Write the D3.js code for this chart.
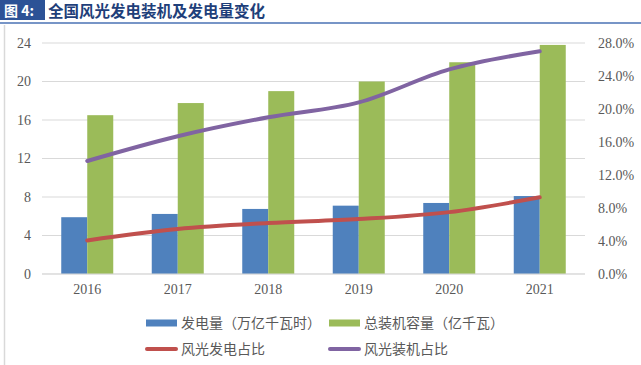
<!DOCTYPE html>
<html>
<head>
<meta charset="utf-8">
<script src="https://cdn.jsdelivr.net/npm/d3@7"></script>
<style>
  body { margin: 0; background: #fff; }
  svg { display: block; }
</style>
</head>
<body>
<svg id="chart" width="641" height="365"></svg>
<script>
// data
const years = ["2016", "2017", "2018", "2019", "2020", "2021"];
const genAmount = [5.9, 6.24, 6.76, 7.1, 7.38, 8.1];        // 发电量（万亿千瓦时）
const capacity = [16.5, 17.76, 19.0, 20.0, 22.0, 23.8];     // 总装机容量（亿千瓦）
const genShare = [4.07, 5.45, 6.17, 6.66, 7.5, 9.3];        // 风光发电占比 (%)
const capShare = [13.7, 16.7, 19.0, 20.8, 24.8, 27.0];      // 风光装机占比 (%)
const leftTicks = [0, 4, 8, 12, 16, 20, 24];
const rightTicks = [0, 4, 8, 12, 16, 20, 24, 28];

const svg = d3.select("#chart");
const serif = "'Liberation Serif', 'DejaVu Serif', serif";
const cjk = "'Noto Sans CJK SC', sans-serif";

// title block
svg.append("rect").attr("x", 0).attr("y", 0).attr("width", 45).attr("height", 20).attr("fill", "#2c5296");
svg.append("text").attr("x", 4).attr("y", 16)
    .attr("fill", "#fff").attr("font-family", cjk).attr("font-size", "14px").attr("font-weight", "bold")
    .text("图 4:");
svg.append("text").attr("x", 48).attr("y", 17)
    .attr("fill", "#1f3f7a").attr("font-family", cjk).attr("font-size", "15.5px").attr("font-weight", "bold")
    .text("全国风光发电装机及发电量变化");
svg.append("line").attr("x1", 0).attr("x2", 641).attr("y1", 23).attr("y2", 23)
    .attr("stroke", "#4a72b4").attr("stroke-width", 1.6);
// left frame line
svg.append("line").attr("x1", 4.5).attr("x2", 4.5).attr("y1", 25).attr("y2", 365)
    .attr("stroke", "#d9d9d9").attr("stroke-width", 1.5);

const margin = { left: 42, right: 585, top: 43, bottom: 274 };

const x = d3.scaleBand().domain(years).range([margin.left, margin.right]);
const yL = d3.scaleLinear().domain([0, 24]).range([margin.bottom, margin.top]);
const yR = d3.scaleLinear().domain([0, 28]).range([margin.bottom, margin.top]);

// gridlines
svg.append("g").selectAll("line").data(leftTicks).join("line")
    .attr("x1", margin.left).attr("x2", margin.right)
    .attr("y1", d => yL(d)).attr("y2", d => yL(d))
    .attr("stroke", "#d9d9d9").attr("stroke-width", 1);

// left axis
const leftAxis = svg.append("g").attr("transform", `translate(${margin.left},0)`)
    .call(d3.axisLeft(yL).tickValues(leftTicks).tickSize(0).tickPadding(11));
leftAxis.select(".domain").remove();
leftAxis.selectAll("text").attr("font-family", serif).attr("font-size", "14px").attr("fill", "#595959");

// right axis
const rightAxis = svg.append("g").attr("transform", `translate(${margin.right},0)`)
    .call(d3.axisRight(yR).tickValues(rightTicks).tickSize(0).tickPadding(13).tickFormat(d => d.toFixed(1) + "%"));
rightAxis.select(".domain").remove();
rightAxis.selectAll("text").attr("font-family", serif).attr("font-size", "14px").attr("fill", "#595959");

// bars
const barW = 26;
const groups = svg.append("g").selectAll("g").data(years).join("g")
    .attr("transform", d => `translate(${x(d) + x.bandwidth() / 2},0)`);
groups.append("rect")
    .attr("x", -barW).attr("width", barW)
    .attr("y", (d, i) => yL(genAmount[i])).attr("height", (d, i) => yL(0) - yL(genAmount[i]))
    .attr("fill", "#4f81bd");
groups.append("rect")
    .attr("x", 0).attr("width", barW)
    .attr("y", (d, i) => yL(capacity[i])).attr("height", (d, i) => yL(0) - yL(capacity[i]))
    .attr("fill", "#9bbb59");

// baseline
svg.append("line").attr("x1", margin.left).attr("x2", margin.right)
    .attr("y1", yL(0)).attr("y2", yL(0)).attr("stroke", "#d9d9d9").attr("stroke-width", 1);

// x axis labels
const xAxis = svg.append("g").attr("transform", `translate(0,${margin.bottom})`)
    .call(d3.axisBottom(x).tickSize(0).tickPadding(10));
xAxis.select(".domain").remove();
xAxis.selectAll("text").attr("font-family", serif).attr("font-size", "14px").attr("fill", "#595959");

// lines
const line = d3.line()
    .x((d, i) => x(years[i]) + x.bandwidth() / 2)
    .y(d => yR(d))
    .curve(d3.curveMonotoneX);
svg.append("path").datum(genShare).attr("d", line)
    .attr("fill", "none").attr("stroke", "#c0504d").attr("stroke-width", 4).attr("stroke-linecap", "round");
svg.append("path").datum(capShare).attr("d", line)
    .attr("fill", "none").attr("stroke", "#8064a2").attr("stroke-width", 4).attr("stroke-linecap", "round");

// legend
const legend = [
  { name: "发电量（万亿千瓦时）", color: "#4f81bd", type: "rect", x: 146, y: 323 },
  { name: "总装机容量（亿千瓦）", color: "#9bbb59", type: "rect", x: 329, y: 323 },
  { name: "风光发电占比", color: "#c0504d", type: "line", x: 146, y: 349 },
  { name: "风光装机占比", color: "#8064a2", type: "line", x: 329, y: 349 }
];
const lg = svg.append("g").selectAll("g").data(legend).join("g")
    .attr("transform", d => `translate(${d.x},${d.y})`);
lg.filter(d => d.type === "rect").append("rect")
    .attr("x", 0).attr("y", -3.5).attr("width", 31).attr("height", 7).attr("fill", d => d.color);
lg.filter(d => d.type === "line").append("line")
    .attr("x1", 1).attr("x2", 30).attr("y1", 0).attr("y2", 0)
    .attr("stroke", d => d.color).attr("stroke-width", 4).attr("stroke-linecap", "round");
lg.append("text").attr("x", 35).attr("y", 5)
    .attr("font-family", cjk).attr("font-size", "14px").attr("fill", "#595959")
    .text(d => d.name);
</script>
</body>
</html>
